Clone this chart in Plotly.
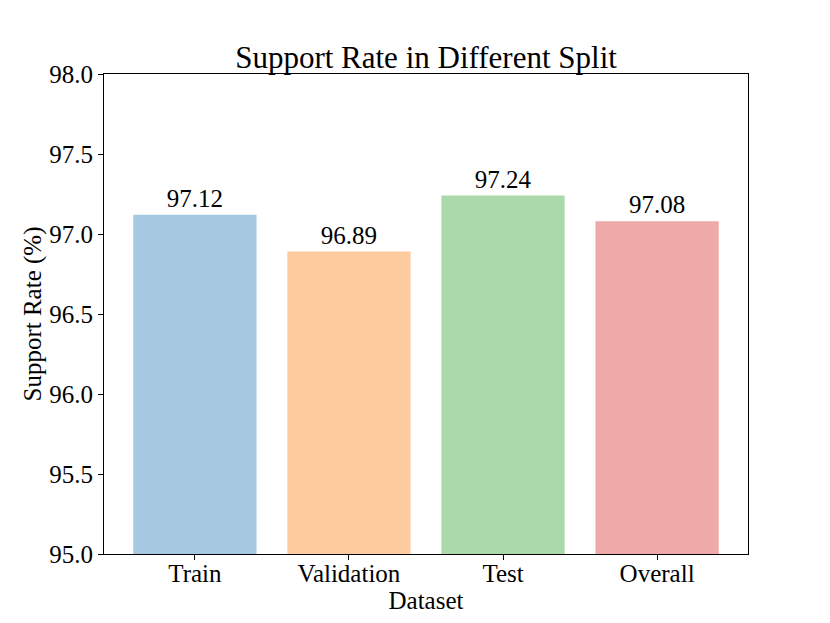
import plotly.graph_objects as go

categories = ["Train", "Validation", "Test", "Overall"]
values = [97.12, 96.89, 97.24, 97.08]
colors = ["rgb(165,201,225)", "rgb(255,204,159)", "rgb(171,217,171)", "rgb(239,169,169)"]
y_ticks = [95.0, 95.5, 96.0, 96.5, 97.0, 97.5, 98.0]

FONT = "Liberation Serif, Times New Roman, serif"

fig = go.Figure()
fig.add_trace(go.Bar(
    x=list(range(len(categories))),
    y=values,
    width=0.8,
    marker=dict(color=colors, line=dict(width=0)),
    text=[f"{v:.2f}" for v in values],
    textposition="outside",
    textfont=dict(family=FONT, size=25, color="black"),
    cliponaxis=False,
))

fig.update_layout(
    width=830, height=623,
    margin=dict(l=96, r=90, t=66, b=77, autoexpand=False),
    paper_bgcolor="white", plot_bgcolor="white",
    font=dict(family=FONT, size=25, color="black"),
    showlegend=False,
    title=dict(text="Support Rate in Different Split", x=0.5, xref="paper",
               xanchor="center", y=1, yref="paper", yanchor="bottom",
               pad=dict(b=6), automargin=False,
               font=dict(family=FONT, size=31, color="black")),
    xaxis=dict(
        range=[-0.59, 3.59], automargin=False,
        tickmode="array", tickvals=list(range(len(categories))), ticktext=categories,
        ticks="outside", ticklen=5, tickwidth=1.2, tickcolor="black",
        ticklabelstandoff=-8,
        showline=True, linecolor="black", linewidth=1.2, mirror=True,
        showgrid=False, zeroline=False,
        title=dict(text="Dataset", standoff=3, font=dict(family=FONT, size=25)),
    ),
    yaxis=dict(
        range=[95.0, 98.0], automargin=False,
        tickmode="array", tickvals=y_ticks, ticktext=[f"{t:.1f}" for t in y_ticks],
        ticks="outside", ticklen=5, tickwidth=1.2, tickcolor="black",
        showline=True, linecolor="black", linewidth=1.2, mirror=True,
        showgrid=False, zeroline=False,
        title=dict(text="Support Rate (%)", standoff=0, font=dict(family=FONT, size=25)),
    ),
)

fig.write_html("out.html")
